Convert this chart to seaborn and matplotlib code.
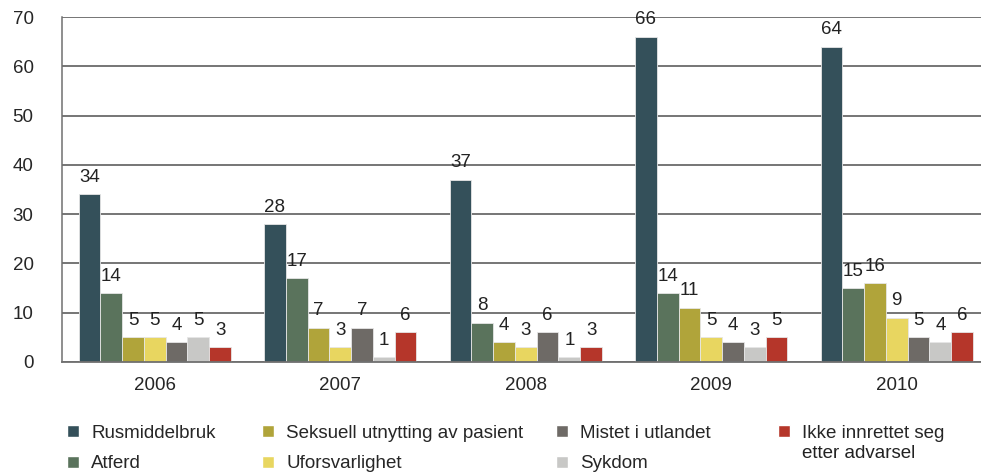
import matplotlib.pyplot as plt
import numpy as np
import pandas as pd
import seaborn as sns
from matplotlib.patches import Patch

years = ['2006', '2007', '2008', '2009', '2010']
causes = ['Rusmiddelbruk', 'Atferd', 'Seksuell utnytting av pasient',
          'Uforsvarlighet', 'Mistet i utlandet', 'Sykdom',
          'Ikke innrettet seg etter advarsel']

rusmiddelbruk = [34, 28, 37, 66, 64]
atferd = [14, 17, 8, 14, 15]
seksuell = [5, 7, 4, 11, 16]
uforsvarlighet = [5, 3, 3, 5, 9]
mistet = [4, 7, 6, 4, 5]
sykdom = [5, 1, 1, 3, 4]
ikke_innrettet = [3, 6, 3, 5, 6]

colors = ['#34505a', '#5a735c', '#b0a43a', '#e8d660', '#6e6a66', '#c8c8c6', '#b5362a']


def build_frame():
    """
    把各序列组合成长表
    """
    series = [rusmiddelbruk, atferd, seksuell, uforsvarlighet, mistet, sykdom, ikke_innrettet]
    rows = []
    for cause, vals in zip(causes, series):
        for year, v in zip(years, vals):
            rows.append({'year': year, 'cause': cause, 'count': v})
    return pd.DataFrame(rows)


df = build_frame()

sns.set_style('white')
plt.rcParams['font.family'] = ['Liberation Sans', 'DejaVu Sans']
fs = 13.5

fig = plt.figure(figsize=(9.81, 4.74), dpi=100)
ax = fig.add_axes([62 / 981, 112 / 474, 927.5 / 981, 345 / 474])

sns.barplot(data=df, x='year', y='count', hue='cause', hue_order=causes,
            palette=colors, width=0.822, saturation=1, legend=False,
            edgecolor='#e6e6e6', linewidth=0.6, ax=ax)

# 数值标签
for cont in ax.containers:
    ax.bar_label(cont, padding=6, fontsize=fs, color='#222222')

ax.set_ylim(0, 70)
ax.set_xlim(-0.5, 4.5)
ax.set_yticks(np.arange(0, 71, 10))
ax.set_xlabel('')
ax.set_ylabel('')
ax.set_axisbelow(True)
ax.yaxis.grid(True, color='#505050', linewidth=1.1)
ax.tick_params(axis='y', length=6.5, width=1.1, color='#505050', pad=14, labelsize=fs)
ax.tick_params(axis='x', which='major', length=0, pad=11, labelsize=fs)
ax.set_xticks(np.arange(-0.5, 5, 1), minor=True)
ax.tick_params(axis='x', which='minor', length=6, width=1.1, color='#606060', direction='out')
for s in ['top', 'right']:
    ax.spines[s].set_visible(False)
ax.spines['left'].set_color('#707070')
ax.spines['left'].set_linewidth(1.1)
ax.spines['bottom'].set_color('#707070')
ax.spines['bottom'].set_linewidth(1.3)

# 图例：手动排列成四列
legend_labels = ['Rusmiddelbruk', 'Atferd', 'Seksuell utnytting av pasient',
                 'Uforsvarlighet', 'Mistet i utlandet', 'Sykdom', 'Ikke innrettet seg']
col_x = [67, 67, 262, 262, 556, 556, 778]
row_y = [433, 464, 433, 464, 433, 464, 433]
legs = []
for lab, c, x, y in zip(legend_labels, colors, col_x, row_y):
    leg = fig.legend(handles=[Patch(facecolor=c)], labels=[lab], loc='center left',
                     bbox_to_anchor=(x / 981, (474 - y) / 474), frameon=False,
                     fontsize=fs, handlelength=0.65, handleheight=0.65,
                     handletextpad=0.65, borderpad=0, borderaxespad=0)
    legs.append(leg)

fig.canvas.draw()
renderer = fig.canvas.get_renderer()
bb = legs[-1].get_texts()[0].get_window_extent(renderer)
fig.text(bb.x0 / 981, (474 - 454) / 474, 'etter advarsel', fontsize=fs,
         va='center', ha='left', color='#222222')

fig.savefig('out.png', dpi=100)
